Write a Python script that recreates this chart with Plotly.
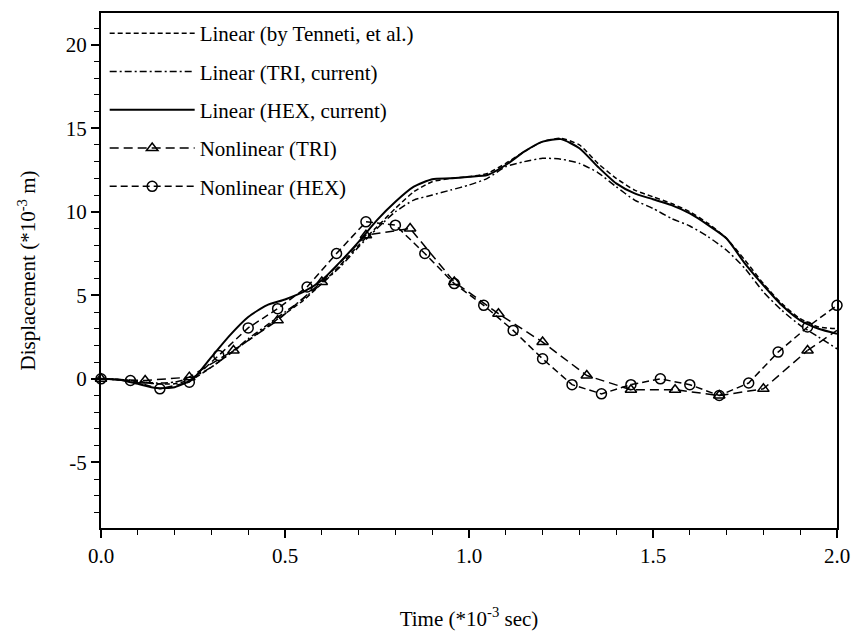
import plotly.graph_objects as go

# ---- data (time in 1e-3 s, displacement in 1e-3 m) ----
t_lin = [0.00, 0.05, 0.10, 0.15, 0.20, 0.25, 0.30, 0.35, 0.40, 0.45,
         0.50, 0.55, 0.60, 0.65, 0.70, 0.75, 0.80, 0.85, 0.90, 0.95,
         1.00, 1.05, 1.10, 1.15, 1.20, 1.25, 1.30, 1.35, 1.40, 1.45,
         1.50, 1.55, 1.60, 1.65, 1.70, 1.75, 1.80, 1.85, 1.90, 1.95, 2.00]

lin_tenneti = [0.0, -0.05, -0.15, -0.3, -0.3, 0.0, 0.7, 1.5, 2.3, 3.1,
               3.9, 4.7, 5.7, 6.8, 8.0, 9.1, 10.2, 11.2, 11.8, 12.0,
               12.1, 12.3, 12.9, 13.6, 14.2, 14.4, 14.0, 12.9, 12.0, 11.3,
               10.9, 10.5, 10.0, 9.3, 8.4, 7.1, 5.7, 4.5, 3.6, 3.1, 3.0]

lin_tri = [0.0, -0.05, -0.15, -0.25, -0.2, 0.1, 0.7, 1.5, 2.4, 3.2,
           4.0, 4.8, 5.7, 6.7, 7.9, 9.0, 10.0, 10.7, 11.0, 11.3,
           11.6, 12.0, 12.7, 13.0, 13.2, 13.15, 12.9, 12.35, 11.5, 10.7,
           10.2, 9.6, 9.15, 8.5, 7.7, 6.6, 5.2, 4.1, 3.2, 2.5, 1.8]

lin_hex = [0.0, -0.05, -0.3, -0.55, -0.5, 0.0, 1.3, 2.6, 3.7, 4.4,
           4.75, 5.2, 5.9, 7.0, 8.2, 9.5, 10.6, 11.5, 11.95, 12.0,
           12.1, 12.2, 12.8, 13.6, 14.2, 14.35, 13.8, 12.7, 11.7, 11.1,
           10.75, 10.4, 9.9, 9.2, 8.4, 6.9, 5.6, 4.4, 3.5, 3.0, 2.7]

t_nl_tri = [0.00, 0.12, 0.24, 0.36, 0.48, 0.60, 0.72, 0.84, 0.96, 1.08,
            1.20, 1.32, 1.44, 1.56, 1.68, 1.80, 1.92]
nl_tri = [0.0, -0.1, 0.1, 1.7, 3.5, 5.8, 8.6, 9.0, 5.8, 3.9,
          2.2, 0.2, -0.65, -0.65, -1.0, -0.6, 1.7]
t_nl_tri_tail = [1.92, 2.00]
nl_tri_tail = [1.7, 2.9]

t_nl_hex = [0.00, 0.08, 0.16, 0.24, 0.32, 0.40, 0.48, 0.56, 0.64, 0.72,
            0.80, 0.88, 0.96, 1.04, 1.12, 1.20, 1.28, 1.36, 1.44, 1.52,
            1.60, 1.68, 1.76, 1.84, 1.92, 2.00]
nl_hex = [0.0, -0.1, -0.6, -0.2, 1.4, 3.05, 4.2, 5.5, 7.5, 9.4,
          9.2, 7.5, 5.7, 4.4, 2.9, 1.2, -0.35, -0.9, -0.35, 0.0,
          -0.35, -1.0, -0.25, 1.6, 3.1, 4.4]

x_ticks = [0.0, 0.5, 1.0, 1.5, 2.0]
x_ticktext = ["0.0", "0.5", "1.0", "1.5", "2.0"]
y_ticks = [-5, 0, 5, 10, 15, 20]
y_ticktext = ["-5", "0", "5", "10", "15", "20"]

FONT = "Liberation Serif, Times New Roman, serif"
BLACK = "black"

fig = go.Figure()

fig.add_trace(go.Scatter(
    x=t_lin, y=lin_tenneti, mode="lines", name="Linear (by Tenneti, et al.)",
    legendgroup="a",
    line=dict(color=BLACK, width=1.5, dash="5px,3px", shape="spline", smoothing=0.6)))
fig.add_trace(go.Scatter(
    x=t_lin, y=lin_tri, mode="lines", name="Linear (TRI, current)",
    legendgroup="b",
    line=dict(color=BLACK, width=1.5, dash="7px,3px,2px,3px", shape="spline", smoothing=0.6)))
fig.add_trace(go.Scatter(
    x=t_lin, y=lin_hex, mode="lines", name="Linear (HEX, current)",
    legendgroup="c",
    line=dict(color=BLACK, width=2, shape="spline", smoothing=0.6)))
fig.add_trace(go.Scatter(
    x=t_nl_tri, y=nl_tri, mode="lines+markers", name="Nonlinear (TRI)",
    legendgroup="d", cliponaxis=False,
    line=dict(color=BLACK, width=1.5, dash="9px,5px"),
    marker=dict(symbol="triangle-up-open", size=10, color=BLACK, line=dict(width=1.5, color=BLACK))))
fig.add_trace(go.Scatter(
    x=t_nl_tri_tail, y=nl_tri_tail, mode="lines", showlegend=False,
    legendgroup="d",
    line=dict(color=BLACK, width=1.5, dash="9px,5px")))
fig.add_trace(go.Scatter(
    x=t_nl_hex, y=nl_hex, mode="lines+markers", name="Nonlinear (HEX)",
    legendgroup="e", cliponaxis=False,
    line=dict(color=BLACK, width=1.5, dash="7px,4px"),
    marker=dict(symbol="circle-open", size=10, color=BLACK, line=dict(width=1.5, color=BLACK))))

fig.update_layout(
    width=861, height=638,
    margin=dict(l=101, r=18, t=11, b=106),
    paper_bgcolor="white", plot_bgcolor="white",
    font=dict(family=FONT, size=21, color=BLACK),
    showlegend=True,
    legend=dict(x=0.005, y=1.0, xanchor="left", yanchor="top",
                bgcolor="rgba(0,0,0,0)", borderwidth=0,
                font=dict(family=FONT, size=21, color=BLACK),
                tracegroupgap=8, itemwidth=85),
    xaxis=dict(range=[0, 2.0], showgrid=False, zeroline=False,
               showline=True, linecolor=BLACK, linewidth=2, mirror=True,
               ticks="outside", ticklen=8, tickwidth=1.5, tickcolor=BLACK,
               tickvals=x_ticks, ticktext=x_ticktext,
               tickfont=dict(family=FONT, size=21, color=BLACK),
               minor=dict(dtick=0.1, ticks="outside", ticklen=5, tickwidth=1.2, tickcolor=BLACK),
               title=dict(text="Time (*10<sup>-3</sup> sec)", standoff=44,
                          font=dict(family=FONT, size=21, color=BLACK))),
    yaxis=dict(range=[-8.93, 21.9], showgrid=False, zeroline=False,
               showline=True, linecolor=BLACK, linewidth=2, mirror=True,
               ticks="outside", ticklen=8, tickwidth=1.5, tickcolor=BLACK,
               tickvals=y_ticks, ticktext=y_ticktext,
               tickfont=dict(family=FONT, size=21, color=BLACK),
               minor=dict(dtick=1, ticks="outside", ticklen=5, tickwidth=1.2, tickcolor=BLACK),
               title=dict(text="Displacement (*10<sup>-3</sup> m)", standoff=24,
                          font=dict(family=FONT, size=21, color=BLACK))),
)

fig.write_html("out.html",
               config={"displayModeBar": False},
               post_script="document.body.style.margin='0';document.body.style.overflow='hidden';")
